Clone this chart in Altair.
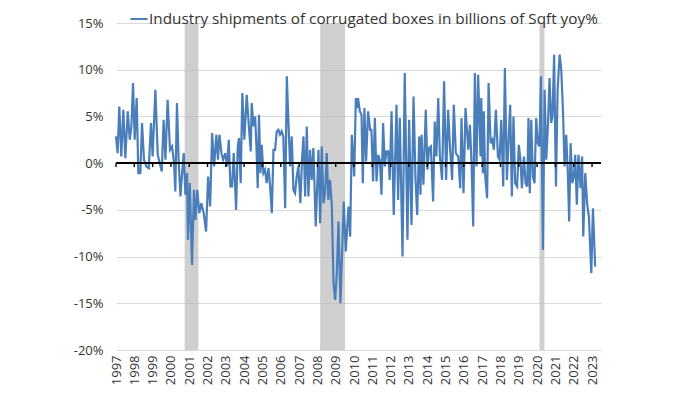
import altair as alt
import pandas as pd

SERIES = "Industry shipments of corrugated boxes in billions of Sqft yoy%"

years = [
    1997.00, 1997.09, 1997.18, 1997.29, 1997.40, 1997.51, 1997.64, 1997.75, 1997.84, 1997.93,
    1998.02, 1998.13, 1998.22, 1998.33, 1998.42, 1998.53, 1998.66, 1998.79, 1998.91, 1999.00,
    1999.15, 1999.28, 1999.39, 1999.50, 1999.60, 1999.70, 1999.82, 1999.95, 2000.06, 2000.17,
    2000.24, 2000.33, 2000.42, 2000.52, 2000.61, 2000.70, 2000.79, 2000.88, 2000.93, 2001.03,
    2001.15, 2001.26, 2001.34, 2001.44, 2001.55, 2001.66, 2001.79, 2001.92, 2002.03, 2002.14,
    2002.25, 2002.36, 2002.48, 2002.57, 2002.65, 2002.76, 2002.85, 2002.97, 2003.07, 2003.16,
    2003.25, 2003.34, 2003.43, 2003.56,
    2003.65, 2003.72, 2003.81, 2003.90, 2004.01, 2004.14, 2004.27, 2004.36, 2004.41, 2004.51,
    2004.60, 2004.67, 2004.74, 2004.81, 2004.89, 2004.96, 2005.05, 2005.14, 2005.23, 2005.33,
    2005.42, 2005.51, 2005.60, 2005.69, 2005.78, 2005.87, 2005.96, 2006.05, 2006.14, 2006.24,
    2006.33, 2006.42, 2006.51, 2006.60, 2006.69, 2006.78, 2006.87, 2006.96, 2007.07, 2007.15,
    2007.24, 2007.33, 2007.42, 2007.51, 2007.60, 2007.69, 2007.78, 2007.91, 2008.06, 2008.15,
    2008.24, 2008.33, 2008.42, 2008.51, 2008.60, 2008.69, 2008.79, 2008.88, 2008.97, 2009.06,
    2009.15, 2009.26, 2009.44, 2009.55, 2009.70, 2009.79, 2009.88, 2010.01, 2010.10, 2010.19,
    2010.22, 2010.32, 2010.41, 2010.48, 2010.57, 2010.66, 2010.77, 2010.88, 2010.95, 2011.04,
    2011.14, 2011.23, 2011.32, 2011.41, 2011.50, 2011.59, 2011.68, 2011.77, 2011.86, 2011.95,
    2012.05, 2012.17, 2012.32, 2012.41, 2012.50, 2012.65, 2012.77, 2012.92, 2013.01, 2013.14,
    2013.25, 2013.36, 2013.45, 2013.56, 2013.63, 2013.69, 2013.79, 2013.92, 2014.01, 2014.10,
    2014.20, 2014.32, 2014.41, 2014.50, 2014.60, 2014.69, 2014.81, 2014.92, 2015.03, 2015.14,
    2015.25, 2015.36, 2015.45, 2015.56, 2015.69, 2015.80, 2015.87, 2015.98, 2016.09, 2016.24,
    2016.33, 2016.42, 2016.51, 2016.60, 2016.69, 2016.78, 2016.91,
    2016.95, 2017.04, 2017.09, 2017.16, 2017.27, 2017.35, 2017.46, 2017.55, 2017.64, 2017.75,
    2017.86, 2017.95, 2018.04, 2018.15, 2018.24, 2018.35, 2018.44, 2018.53, 2018.62, 2018.71,
    2018.80, 2018.91, 2019.00, 2019.09, 2019.17, 2019.28, 2019.37, 2019.46, 2019.53, 2019.60,
    2019.68, 2019.77, 2019.86, 2019.95, 2020.04, 2020.13, 2020.21, 2020.32, 2020.41, 2020.50,
    2020.59, 2020.68, 2020.77, 2020.84, 2020.93, 2021.03, 2021.12, 2021.23, 2021.32, 2021.41,
    2021.50, 2021.59, 2021.68, 2021.75, 2021.83, 2021.92, 2022.01, 2022.08, 2022.17, 2022.26,
    2022.37, 2022.46, 2022.52, 2022.63, 2022.74, 2022.83, 2022.96, 2023.05, 2023.17,
]
values = [
    2.86, 1.07, 6.07, 0.71, 5.71, 0.54, 5.54, 2.50, 3.93, 8.57,
    2.50, 6.96, -1.07, -1.07, 4.29, 0.36, -0.36, -0.54, 4.29, 0.71,
    7.86, 0.89, 0.00, -0.89, 4.64, 0.36, 6.79, 1.43, 1.79, 0.00,
    -3.04, 6.43, 0.36, -3.57, -1.07, 1.07, -3.39, -1.07, -8.21, -2.14,
    -10.89, -2.86, -6.07, -2.86, -5.36, -4.29, -5.36, -7.32, -1.43, -4.64,
    3.21, -0.36, 3.04, 0.36, 3.04, 1.07, 0.36, 1.07, -0.36, 2.50,
    -2.50, -2.50, 1.07, -5.00,
    1.79, 2.68, -2.14, 7.50, 2.50, 7.32, 3.57, 1.25, 6.43, 3.93,
    5.00, 1.79, -2.68, 5.18, -1.07, 1.96, -1.07, -0.71, -2.14, -0.54,
    -2.50, -5.36, 1.43, 1.43, 3.39, 3.57, 3.04, 3.39, 2.86, -4.82,
    9.29, 4.29, -0.36, 2.86, -2.86, -3.21, -1.43, -0.36, -4.29, 0.00,
    2.86, -3.57, 3.93, -3.57, 1.43, -1.79, 1.61, -6.79, 1.43, -6.43,
    1.79, -4.29, -3.21, 1.07, -3.93, -1.79, -4.64, -12.86, -14.64, -11.79,
    -6.25, -15.00, -4.11, -9.46, -4.64, -7.86, 3.04, -1.43, 6.96, 5.89,
    6.96, 5.54, 5.18, -2.14, 5.89, 0.18, 5.54, 3.57, 3.57, -1.96,
    4.82, -1.96, 0.89, 0.36, -3.39, 4.29, -0.36, 1.25, 1.25, -1.79,
    5.54, -5.54, 6.25, -3.93, 4.82, -10.00, 9.64, -8.21, 4.64, -6.61,
    7.14, -1.79, -5.54, 2.86, -3.39, 3.04, -2.32, 5.71, -0.71, 1.61,
    1.79, -4.11, 4.46, 0.71, 6.96, 0.71, -1.79, 8.75, -1.79, 5.71,
    1.43, -1.79, 6.25, 1.07, 0.71, -2.68, 4.82, -3.21, 5.89, 1.43,
    4.11, 0.00, -6.79, 9.64, -0.36, 9.46, 0.71,
    6.96, -1.07, 5.54, -1.25, -3.75, 8.57, 2.14, 2.50, 1.43, 5.71,
    0.71, 0.36, 4.64, -2.50, 10.18, -1.79, 2.50, 6.25, -3.57, 5.00,
    -2.14, -2.50, 1.96, 0.36, -2.68, 0.71, -2.14, -2.50, 4.82, -3.21,
    4.64, -1.43, -2.14, 4.82, 2.14, 1.79, 9.29, -9.29, 7.86, 0.36,
    3.93, 9.11, 4.29, 5.00, 11.61, -2.50, 7.86, 11.61, 10.00, 5.71,
    -0.36, 3.04, -1.07, -6.25, 2.14, -2.14, -1.43, 0.89, -4.46, 0.89,
    -2.68, 0.71, -7.86, -1.07, -4.46, -5.71, -11.79, -4.82, -11.07,
]

# recession shading (decimal years)
rec_start = [2000.75, 2008.15, 2020.13]
rec_end = [2001.50, 2009.51, 2020.40]

tick_years = list(range(1997, 2024))
y_ticks = [-20, -15, -10, -5, 0, 5, 10, 15]

X_MIN, X_MAX = 1997.0, 2023.49
Y_MIN, Y_MAX = -20, 15
FONT = "Open Sans"
LINE_COLOR = "#4a7ebb"

df = pd.DataFrame({"year": years, "value": values, "series": SERIES})
rec = pd.DataFrame({"start": rec_start, "end": rec_end})
ticks = pd.DataFrame({"year": tick_years})

xscale = alt.Scale(domain=[X_MIN, X_MAX], nice=False, zero=False)
yscale = alt.Scale(domain=[Y_MIN, Y_MAX], nice=False)

x_axis = alt.Axis(values=tick_years, format="d", labelAngle=270, title=None)
y_axis = alt.Axis(values=y_ticks, labelExpr="datum.value + '%'", title=None)

bands = alt.Chart(rec).mark_rect(color="#bdbdbd", opacity=0.72).encode(
    x=alt.X("start:Q", scale=xscale, axis=x_axis),
    x2="end:Q",
    y=alt.datum(Y_MIN, scale=yscale, axis=y_axis),
    y2=alt.datum(Y_MAX),
)

line = alt.Chart(df).mark_line(strokeWidth=2.2, strokeJoin="miter").encode(
    x=alt.X("year:Q", scale=xscale, axis=x_axis),
    y=alt.Y("value:Q", scale=yscale, axis=y_axis),
    color=alt.Color("series:N", scale=alt.Scale(range=[LINE_COLOR]),
                    legend=alt.Legend(orient="none", legendX=13, legendY=-14, title=None,
                                      symbolType="stroke", symbolStrokeWidth=2,
                                      symbolSize=290, labelFontSize=15.3, labelFont=FONT,
                                      labelColor="#333333", labelOffset=0, labelLimit=0,
                                      padding=0, rowPadding=0)),
)

zero = alt.Chart(ticks).mark_rule(color="black", strokeWidth=1.6).encode(
    y=alt.datum(0, scale=yscale, axis=y_axis),
)

tick_marks = alt.Chart(ticks).mark_rule(color="black", strokeWidth=1.4).encode(
    x=alt.X("year:Q", scale=xscale, axis=x_axis),
    y=alt.datum(0, scale=yscale, axis=y_axis),
    y2=alt.datum(-0.42),
)

chart = alt.layer(bands, line, zero, tick_marks).properties(
    width=485, height=327,
    background="white",
    autosize=alt.AutoSizeParams(type="none"),
    padding={"left": 108, "top": 15, "right": 80, "bottom": 44},
).configure_view(
    strokeWidth=0,
).configure_axisX(
    grid=False, domain=False, ticks=False, labelPadding=5, labelFontSize=13,
    labelFont=FONT, labelColor="#333333", labelOverlap=False, labelFlush=False,
    labelBound=False,
).configure_axisY(
    grid=True, gridColor="#d9d9d9", gridWidth=1, domain=False, ticks=False,
    labelPadding=13, labelFontSize=13, labelFont=FONT, labelColor="#333333",
)

chart.save("out.html", embed_options={"renderer": "svg", "actions": False})
